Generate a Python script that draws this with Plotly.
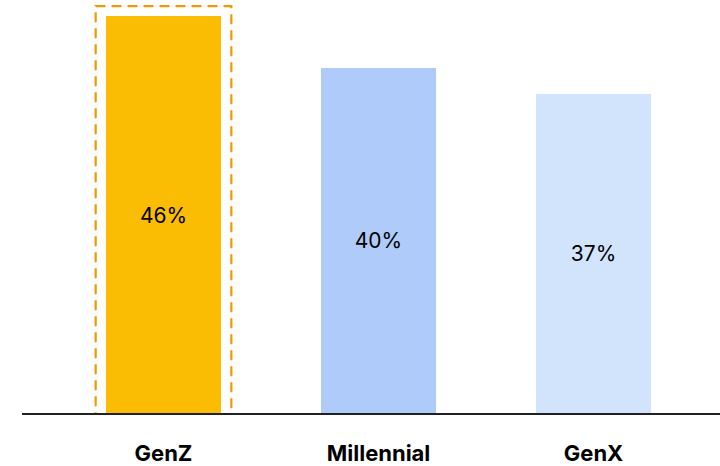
import plotly.graph_objects as go

generations = ["GenZ", "Millennial", "GenX"]
shares = [46, 40, 37]
bar_colors = ["#FBBC04", "#AECBFA", "#D2E3FC"]
highlight_index = 0

bar_width = 0.535
font_family = "Inter, Roboto, sans-serif"

fig = go.Figure(
    go.Bar(
        x=list(range(len(generations))),
        y=shares,
        width=bar_width,
        marker=dict(color=bar_colors, line=dict(width=0)),
        text=[f"{v}%" for v in shares],
        textposition="inside",
        insidetextanchor="middle",
        textfont=dict(family=font_family, size=21, color="#000000"),
        textangle=0,
        hoverinfo="skip",
    )
)

# dashed highlight around the leading bar
pad_x = 0.048
fig.add_shape(
    type="rect",
    xref="x", yref="y",
    x0=highlight_index - bar_width / 2 - pad_x,
    x1=highlight_index + bar_width / 2 + pad_x,
    y0=-0.3,
    y1=shares[highlight_index] + 1.15,
    line=dict(color="#F29900", width=2.2, dash="10px,6px"),
    fillcolor="rgba(0,0,0,0)",
    layer="above",
)

# baseline
fig.add_shape(
    type="line", xref="paper", yref="paper",
    x0=0, x1=1, y0=0, y1=0,
    line=dict(color="#202124", width=2),
    layer="above",
)

fig.update_layout(
    width=720, height=466,
    margin=dict(l=22, r=0, t=0, b=52),
    plot_bgcolor="white", paper_bgcolor="white",
    showlegend=False,
    xaxis=dict(
        range=[-0.658, 2.588],
        tickmode="array",
        tickvals=list(range(len(generations))),
        ticktext=[f"<b>{g}</b>" for g in generations],
        tickfont=dict(family=font_family, size=22, color="#000000"),
        showgrid=False, zeroline=False, showline=False,
        ticks="", ticklabelstandoff=24,
    ),
    yaxis=dict(
        range=[0, 47.86],
        visible=False,
        showgrid=False, zeroline=False,
    ),
)

fig.write_html("out.html")
